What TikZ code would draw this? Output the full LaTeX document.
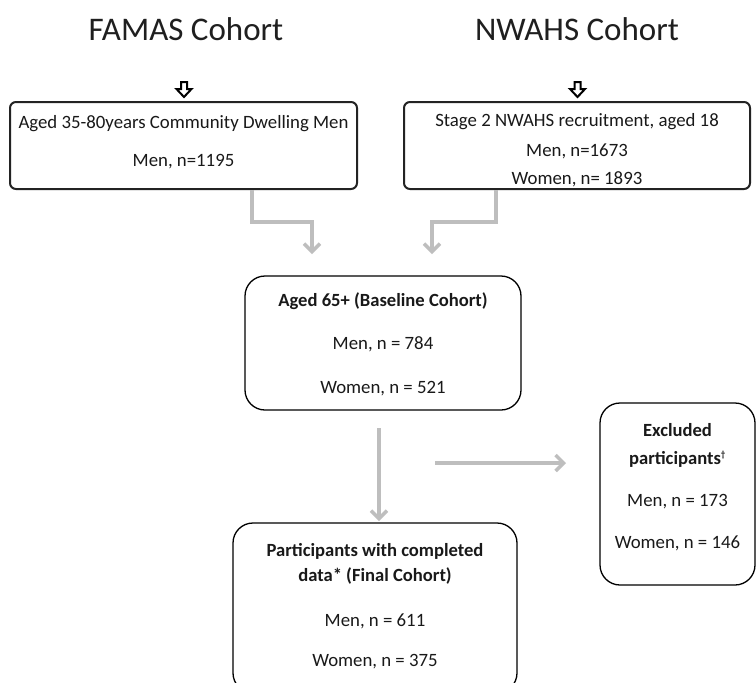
\documentclass[tikz,border=0pt]{standalone}
\usepackage{fontspec}
\setmainfont{Carlito}
\usetikzlibrary{arrows.meta}
\definecolor{conn}{RGB}{190,190,190}
\definecolor{edge}{RGB}{35,35,35}
\tikzset{
  topbox/.style={draw=edge, line width=2, rounded corners=6, inner sep=0, fill=none},
  lowbox/.style={draw=black, line width=1.3, rounded corners=20, inner sep=0, fill=none},
  ttl/.style={anchor=base, inner sep=0, font=\fontsize{33}{38}\selectfont, text=black!88},
  txt/.style={anchor=base, inner sep=0, font=\fontsize{18.8}{22}\selectfont, text=black!90},
  btxt/.style={txt, font=\fontsize{18.6}{22}\selectfont\bfseries},
  conarrow/.style={draw=conn, line width=4, -{Straight Barb[length=8,width=16,line width=3.5]}},
  hollow/.style={draw=black, line width=2, line join=miter, fill=white},
}
\begin{document}
\begin{tikzpicture}[x=1pt,y=-1pt]
\clip (0,0) rectangle (756,683);
\fill[white] (0,0) rectangle (756,683);
% titles
\node[ttl] (famas) at (186,40) {FAMAS Cohort};
\node[ttl] (nwahs) at (577,40) {NWAHS Cohort};
% hollow arrows
\draw[hollow] (181,82) -- (187,82) -- (187,89) -- (191.5,89) -- (184,97) -- (176.5,89) -- (181,89) -- cycle;
\draw[hollow] (574.5,82) -- (580.5,82) -- (580.5,89) -- (585,89) -- (577.5,97) -- (570,89) -- (574.5,89) -- cycle;
% boxes
\node[topbox, minimum width=347, minimum height=87] (b1) at (183.5,145.5) {};
\node[txt] (b1a) at (183.5,128) {Aged 35-80years Community Dwelling Men};
\node[txt] (b1b) at (183.5,166) {Men, n=1195};
\node[topbox, minimum width=346, minimum height=87] (b2) at (577,145.5) {};
\node[txt] (b2a) at (577,126) {Stage 2 NWAHS recruitment, aged 18};
\node[txt] (b2b) at (577,156) {Men, n=1673};
\node[txt] (b2c) at (577,184) {Women, n= 1893};
\node[lowbox, minimum width=276, minimum height=134] (b3) at (383,343) {};
\node[btxt] (b3a) at (383,306) {Aged 65+ (Baseline Cohort)};
\node[txt] (b3b) at (383,349) {Men, n = 784};
\node[txt] (b3c) at (383,393) {Women, n = 521};
\node[lowbox, minimum width=284, minimum height=170] (b4) at (375,608) {};
\node[btxt] (b4a) at (375,556) {Participants with completed};
\node[btxt] (b4b) at (375,581) {data* (Final Cohort)};
\node[txt] (b4c) at (375,626) {Men, n = 611};
\node[txt] (b4d) at (375,666) {Women, n = 375};
\node[lowbox, minimum width=155, minimum height=182] (b5) at (677.5,494) {};
\node[btxt] (b5a) at (677.5,436) {Excluded};
\node[btxt] (b5b) at (677.5,464) {participants\textsuperscript{\fontsize{9}{10}\selectfont †}};
\node[txt] (b5c) at (677.5,506) {Men, n = 173};
\node[txt] (b5d) at (677.5,548) {Women, n = 146};
% connectors
\coordinate (c1e) at (312,254);
\coordinate (c2e) at (432,254);
\coordinate (c3s) at (379,428);
\coordinate (c3e) at (379,521);
\coordinate (c4s) at (435,463);
\coordinate (c4e) at (566,463);
\draw[conarrow] (b1.south -| 252,0) -- (252,222) -| (c1e);
\draw[conarrow] (b2.south -| 496,0) -- (496,222) -| (c2e);
\draw[conarrow] (c3s) -- (c3e);
\draw[conarrow] (c4s) -- (c4e);
\end{tikzpicture}
\end{document}
